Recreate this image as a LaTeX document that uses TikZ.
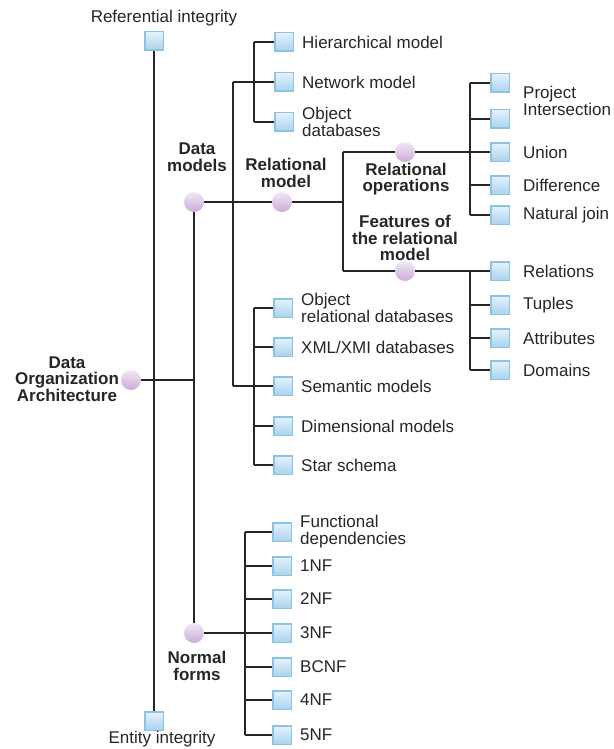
\documentclass[tikz,border=0pt]{standalone}
\usepackage{fontspec}
\setmainfont{Liberation Sans}
\usetikzlibrary{calc}
\definecolor{boxedge}{HTML}{8CC3E4}
\definecolor{boxtop}{HTML}{E6F2FB}
\definecolor{boxbot}{HTML}{A9D3EE}
\definecolor{hubtop}{HTML}{F2E8F5}
\definecolor{hubbot}{HTML}{CBABD7}
\tikzset{
  leaf/.style={draw=boxedge, line width=1.5pt, top color=boxtop, bottom color=boxbot, minimum size=18.5pt, inner sep=0pt},
  hub/.style={circle, inner sep=0pt, minimum size=20pt, top color=hubtop, bottom color=hubbot},
  txt/.style={font=\fontsize{17}{17}\selectfont, inner sep=0pt, align=left, text=black!85},
  bold/.style={font=\fontsize{17}{16.5}\selectfont\bfseries, inner sep=0pt, align=center, text=black!85},
  wire/.style={line width=2.2pt, black!85}
}

\begin{document}
\begin{tikzpicture}[x=1pt,y=-1pt]
\useasboundingbox (0,0) rectangle (613,749);

% root and the two integrity boxes
\node[hub] (root) at (131,380) {};
\node[bold] (root-t) at (67,379) {Data\\Organization\\Architecture};
\node[leaf] (refint) at (154,41) {};
\node[txt] (refint-t) at (164,18) {Referential integrity};
\node[leaf] (entint) at (154,721) {};
\node[txt] (entint-t) at (162,739) {Entity integrity};
\draw[wire] (refint.south) -- (entint.north);

% data models / normal forms
\node[hub] (dm) at (194,202) {};
\node[bold] (dm-t) at (197,157) {Data\\models};
\node[hub] (nf) at (194,633) {};
\node[bold] (nf-t) at (197,666) {Normal\\forms};
\coordinate (root-j) at (194,380);
\draw[wire] (root.east) -- (root-j);
\draw[wire] (dm.south) -- (nf.north);

% data model branches
\coordinate (dm-top) at (233,82);
\coordinate (dm-bot) at (233,386);
\draw[wire] (dm-top) -- (dm-bot);
\node[leaf] (net) at (284,82) {};
\node[txt, anchor=west] (net-t) at ([xshift=8pt]net.east) {Network model};
\draw[wire] (dm-top) -- (net.west);
\foreach \nm/\yy/\txt in {hier/42/{Hierarchical model}, objdb/122/{Object\\databases}}
{
  \node[leaf] (\nm) at (284,\yy) {};
  \node[txt, anchor=west] (\nm-t) at ([xshift=8pt]\nm.east) {\txt};
  \coordinate (\nm-j) at (254,\yy);
  \draw[wire] (\nm-j) -- (\nm.west);
}
\draw[wire] (hier-j) -- (objdb-j);

\foreach \nm/\yy/\txt in {orel/308/{Object\\relational databases}, xml/347/{XML/XMI databases},
  sem/386/{Semantic models}, dim/426/{Dimensional models}, star/465/{Star schema}}
{
  \node[leaf] (\nm) at (283,\yy) {};
  \node[txt, anchor=west] (\nm-t) at ([xshift=8pt]\nm.east) {\txt};
  \coordinate (\nm-j) at (254,\yy);
  \draw[wire] (\nm-j) -- (\nm.west);
}
\draw[wire] (orel-j) -- (star-j);
\draw[wire] (dm-bot) -- (sem-j);

% relational model
\node[hub] (rm) at (282,202) {};
\node[bold] (rm-t) at (286,173) {Relational\\model};
\draw[wire] (dm.east) -- (rm.west);
\coordinate (rm-j) at (343,202);
\coordinate (ro-j) at (343,152);
\coordinate (fr-j) at (343,271);
\draw[wire] (rm.east) -- (rm-j);
\draw[wire] (ro-j) -- (fr-j);
\node[hub] (ro) at (405,152) {};
\node[bold] (ro-t) at (406,179) {Relational\\operations};
\node[hub] (fr) at (405,271) {};
\node[bold] (fr-t) at (405,238) {Features of\\the relational\\model};
\draw[wire] (ro-j) -- (ro.west);
\draw[wire] (fr-j) -- (fr.west);

% relational operations
\foreach \nm/\yy/\txt in {proj/83/{}, inter/119/{}, union/152/{Union}, diff/185/{Difference}, njoin/215/{Natural join}}
{
  \node[leaf] (\nm) at (500,\yy) {};
  \node[txt, anchor=west] (\nm-t) at ([xshift=13pt]\nm.east) {\txt};
  \coordinate (\nm-j) at (470,\yy);
  \draw[wire] (\nm-j) -- (\nm.west);
}
\node[txt, anchor=west] (projinter-t) at ([xshift=13pt]$(proj.east)!0.5!(inter.east)$) {Project\\Intersection};
\draw[wire] (proj-j) -- (njoin-j);
\draw[wire] (ro.east) -- (union.west);

% features of the relational model
\foreach \nm/\yy/\txt in {rel/271/{Relations}, tup/305/{Tuples}, att/338/{Attributes}, dom/370/{Domains}}
{
  \node[leaf] (\nm) at (500,\yy) {};
  \node[txt, anchor=west] (\nm-t) at ([xshift=13pt]\nm.east) {\txt};
  \coordinate (\nm-j) at (470,\yy);
  \draw[wire] (\nm-j) -- (\nm.west);
}
\draw[wire] (rel-j) -- (dom-j);
\draw[wire] (fr.east) -- (rel.west);

% normal forms
\foreach \nm/\yy/\txt in {fd/532/{Functional\\dependencies}, nfa/566/{1NF}, nfb/599/{2NF}, nfc/633/{3NF},
  bcnf/667/{BCNF}, nfd/700/{4NF}, nfe/735/{5NF}}
{
  \node[leaf] (\nm) at (282,\yy) {};
  \node[txt, anchor=west] (\nm-t) at ([xshift=8pt]\nm.east) {\txt};
  \coordinate (\nm-j) at (245,\yy);
  \draw[wire] (\nm-j) -- (\nm.west);
}
\draw[wire] (fd-j) -- (nfe-j);
\draw[wire] (nf.east) -- (nfc.west);
\end{tikzpicture}
\end{document}
